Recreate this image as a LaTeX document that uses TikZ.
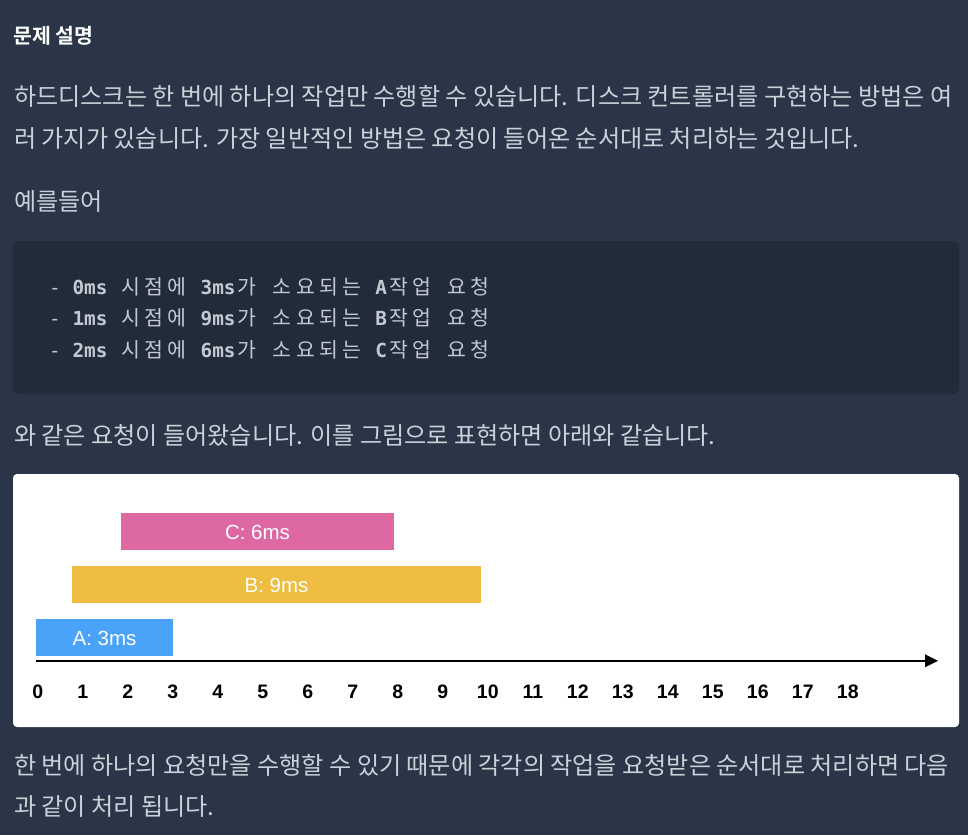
\documentclass[tikz,border=0pt]{standalone}
\usepackage{fontspec}
\setmainfont{Noto Sans CJK KR}[BoldFont={Noto Sans CJK KR Bold}]
\newfontfamily\kfont{Noto Sans CJK KR}
\newfontfamily\monofont{DejaVu Sans Mono}
\newfontfamily\arialfont{Liberation Sans}
\definecolor{pagebg}{HTML}{2A3647}
\definecolor{codebg}{HTML}{222B3A}
\definecolor{bodytext}{HTML}{CBD1D9}
\definecolor{codetext}{HTML}{C3C9D1}
\definecolor{barA}{HTML}{4AA3F9}
\definecolor{barB}{HTML}{EFBD41}
\definecolor{barC}{HTML}{DE68A2}
\newlength\kw \setlength\kw{23.3pt}
\def\K#1{\Kloop#1\relax}
\def\Kloop#1{\ifx#1\relax\else\makebox[\kw][c]{\fontsize{20.5}{24}\kfont#1}\expandafter\Kloop\fi}
\tikzset{
  bodyline/.style={anchor=base west, inner sep=0pt, text=bodytext, font=\fontsize{24.1}{28}\selectfont},
  titleline/.style={anchor=base west, inner sep=0pt, text=white, font=\fontsize{20.5}{24}\selectfont\bfseries},
  codeline/.style={anchor=base west, inner sep=0pt, text=codetext, font=\fontsize{19.35}{23}\monofont},
  barlabel/.style={anchor=base, inner sep=0pt, text=white, font=\fontsize{20.5}{24}\arialfont},
  ticklabel/.style={anchor=base, inner sep=0pt, text=black, font=\fontsize{19.5}{23}\arialfont\bfseries},
}
\begin{document}
\begin{tikzpicture}[x=1pt,y=-1pt]
\useasboundingbox (0,0) rectangle (968,835);
\fill[pagebg] (0,0) rectangle (968,835);
% text
\node[titleline] (title) at (13,43) {문제 설명};
\node[bodyline] (l1) at (14,105) {하드디스크는 한 번에 하나의 작업만 수행할 수 있습니다. 디스크 컨트롤러를 구현하는 방법은 여};
\node[bodyline] (l2) at (14,147) {러 가지가 있습니다. 가장 일반적인 방법은 요청이 들어온 순서대로 처리하는 것입니다.};
\node[bodyline] (l3) at (14,210) {예를들어};
% code block
\fill[codebg, rounded corners=5pt] (13,241) rectangle (959,394);
\node[codeline] (c1) at (49,294) {- \textbf{0ms} \K{시점에} \textbf{3ms}\K{가} \K{소요되는} \textbf{A}\K{작업} \K{요청}};
\node[codeline] (c2) at (49,325) {- \textbf{1ms} \K{시점에} \textbf{9ms}\K{가} \K{소요되는} \textbf{B}\K{작업} \K{요청}};
\node[codeline] (c3) at (49,357) {- \textbf{2ms} \K{시점에} \textbf{6ms}\K{가} \K{소요되는} \textbf{C}\K{작업} \K{요청}};
\node[bodyline] (l4) at (14,444) {와 같은 요청이 들어왔습니다. 이를 그림으로 표현하면 아래와 같습니다.};
% chart
\fill[white, rounded corners=4pt] (13,474) rectangle (959,727);
\fill[barC] (121,513) rectangle (394,550);
\fill[barB] (72,566) rectangle (481,603);
\fill[barA] (36,619) rectangle (173,656);
\node[barlabel] (lc) at (257.5,539.5) {C: 6ms};
\node[barlabel] (lb) at (276.5,592.5) {B: 9ms};
\node[barlabel] (la) at (104.5,645.5) {A: 3ms};
\coordinate (axs) at (36,660.8);
\coordinate (axe) at (925,660.8);
\draw[line width=2.6pt] (axs) -- (axe);
\fill (925,654.3) -- (938,660.8) -- (925,667.3) -- cycle;
\foreach \i in {0,...,18} {
  \node[ticklabel] (t\i) at ({37.8+45*\i},698) {\i};
}
\node[bodyline] (l5) at (14,774) {한 번에 하나의 요청만을 수행할 수 있기 때문에 각각의 작업을 요청받은 순서대로 처리하면 다음};
\node[bodyline] (l6) at (14,815) {과 같이 처리 됩니다.};
\end{tikzpicture}
\end{document}
